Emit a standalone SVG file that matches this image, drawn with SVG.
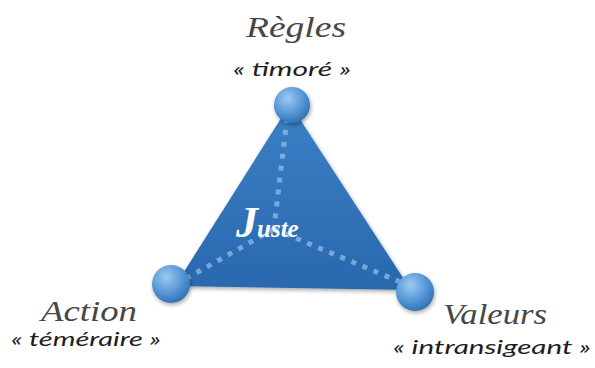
<svg xmlns="http://www.w3.org/2000/svg" width="595" height="368" viewBox="0 0 595 368">
<defs>
<linearGradient id="triGrad" x1="0" y1="0" x2="0" y2="1">
<stop offset="0" stop-color="#3a80c6"/>
<stop offset="1" stop-color="#2a68ae"/>
</linearGradient>
<radialGradient id="ballGrad" cx="0.38" cy="0.32" r="0.72">
<stop offset="0" stop-color="#9ccaf2"/>
<stop offset="0.55" stop-color="#5a9ad8"/>
<stop offset="1" stop-color="#2f6fb3"/>
</radialGradient>
<filter id="shadow" x="-30%" y="-30%" width="160%" height="160%">
<feGaussianBlur in="SourceAlpha" stdDeviation="2"/>
<feOffset dx="1" dy="2" result="b"/>
<feComponentTransfer><feFuncA type="linear" slope="0.35"/></feComponentTransfer>
<feMerge><feMergeNode/><feMergeNode in="SourceGraphic"/></feMerge>
</filter>
</defs>
<style>
.title{font-family:"Liberation Serif","Times New Roman",serif;font-style:italic;font-weight:normal;font-size:30px;fill:#474747;text-anchor:middle}
.sub{font-family:Lato,"Open Sans",sans-serif;font-style:italic;font-size:20px;fill:#1e1e1e;text-anchor:middle}
.dots{stroke:#8fbbe8;stroke-opacity:0.75;stroke-width:5;stroke-dasharray:5 7;fill:none}
.ball{fill:url(#ballGrad);filter:url(#shadow)}
.juste{font-family:"Liberation Serif","Times New Roman",serif;font-style:italic;font-weight:bold;fill:#ffffff}
</style>
<rect width="595" height="368" fill="#ffffff"/>
<g id="triangle">
<polygon points="290,104 175,286 411,290" fill="url(#triGrad)" filter="url(#shadow)"/>
</g>
<g id="connectors">
<line class="dots" x1="287" y1="118" x2="274" y2="228"/>
<line class="dots" x1="274" y1="229" x2="180" y2="282"/>
<line class="dots" x1="274" y1="229" x2="405" y2="284"/>
</g>
<g id="juste">
<text class="juste" x="236" y="237"><tspan font-size="44">J</tspan><tspan font-size="25" dx="-1">uste</tspan></text>
</g>
<g id="regles">
<circle class="ball" cx="292" cy="105" r="18"/>
<text class="title" x="296" y="37" textLength="100" lengthAdjust="spacingAndGlyphs">Règles</text>
<text class="sub" x="292" y="76" textLength="118" lengthAdjust="spacingAndGlyphs">« timoré »</text>
</g>
<g id="action">
<circle class="ball" cx="171" cy="284" r="19"/>
<text class="title" x="89" y="321" textLength="96" lengthAdjust="spacingAndGlyphs">Action</text>
<text class="sub" x="86" y="346" textLength="150" lengthAdjust="spacingAndGlyphs">« téméraire »</text>
</g>
<g id="valeurs">
<circle class="ball" cx="415" cy="292" r="19"/>
<text class="title" x="495" y="324" textLength="104" lengthAdjust="spacingAndGlyphs">Valeurs</text>
<text class="sub" x="492" y="354" textLength="198" lengthAdjust="spacingAndGlyphs">« intransigeant »</text>
</g>
</svg>
